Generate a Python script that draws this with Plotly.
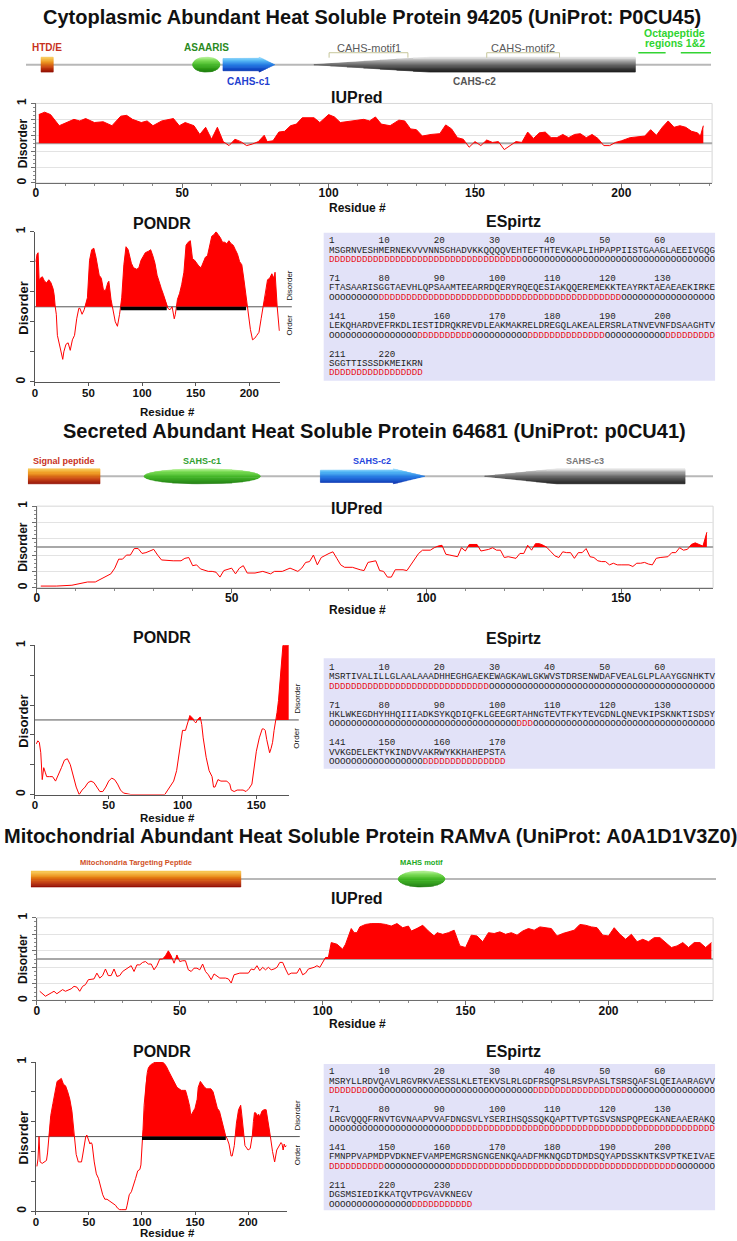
import math
import plotly.graph_objects as go

W, H = 737, 1241
SANS = "Liberation Sans, Arial, Helvetica, sans-serif"
MONO = "Liberation Mono, Courier New, monospace"
RED = "#ff0000"
DRED = "#e8121c"
THRESH = 0.5

# ======================= DATA =======================
# ---- Section 1: CAHS 94205 ----
iupred1_res = [1,3,5,8,13,15,17,20,23,26,29,31,33,36,38,40,43,47,49,51,54,56,58,60,62,64,66,68,70,72,
               74,76,78,79,81,83,85,87,89,91,95,97,100,102,104,108,112,114,116,118,121,124,126,128,130,132,135,138,140,142,
               144,146,148,150,152,154,156,158,160,162,164,166,168,170,172,174,176,178,180,182,184,186,188,190,192,194,196,198,200,203,
               206,208,210,212,214,216,218,220,222,224,226,227,228]
iupred1_val = [0.86,0.89,0.86,0.72,0.80,0.78,0.81,0.76,0.77,0.72,0.84,0.85,0.80,0.76,0.78,0.72,0.78,0.81,0.72,0.76,
               0.72,0.61,0.70,0.55,0.70,0.52,0.47,0.55,0.52,0.47,0.49,0.52,0.60,0.52,0.53,0.64,0.65,0.72,0.74,0.82,
               0.82,0.76,0.86,0.83,0.76,0.78,0.80,0.78,0.83,0.74,0.72,0.79,0.78,0.68,0.67,0.59,0.61,0.62,0.73,0.68,
               0.57,0.55,0.45,0.52,0.47,0.54,0.51,0.52,0.42,0.47,0.52,0.51,0.64,0.56,0.63,0.64,0.57,0.57,0.61,0.57,
               0.61,0.62,0.57,0.61,0.56,0.47,0.47,0.51,0.53,0.57,0.58,0.59,0.67,0.60,0.70,0.78,0.70,0.72,0.70,0.65,
               0.63,0.59,0.72]
pondr1_res = [1,2,3,4,5,7,9,11,13,15,17,18,19,20,21,23,25,26,27,29,31,33,35,37,39,41,42,44,46,47,
              49,51,53,55,57,60,62,64,66,68,69,71,73,75,77,79,81,83,85,87,90,92,95,97,99,101,103,106,108,110,
              112,114,116,118,120,122,124,126,128,130,131,133,135,137,139,141,143,145,147,149,151,153,155,157,159,161,163,165,167,169,
              171,173,175,177,179,181,183,185,187,189,191,193,195,197,199,201,203,205,207,209,211,213,215,217,219,221,223,224,226,227,228]
pondr1_val = [0.80,0.85,0.86,0.67,0.69,0.70,0.67,0.66,0.68,0.66,0.62,0.58,0.50,0.45,0.31,0.25,0.18,0.15,0.20,0.25,
              0.26,0.21,0.28,0.31,0.42,0.49,0.49,0.45,0.48,0.51,0.56,0.81,0.88,0.89,0.83,0.71,0.69,0.61,0.61,0.66,
              0.67,0.55,0.47,0.40,0.37,0.45,0.56,0.78,0.90,0.88,0.79,0.76,0.75,0.76,0.81,0.84,0.86,0.87,0.88,0.84,
              0.79,0.71,0.66,0.62,0.58,0.54,0.49,0.48,0.50,0.42,0.45,0.55,0.59,0.65,0.73,0.91,0.93,0.94,0.82,0.81,
              0.79,0.77,0.76,0.80,0.83,0.84,0.91,0.97,0.98,1.00,0.98,0.96,0.93,0.93,0.92,0.94,0.92,0.91,0.88,0.85,
              0.80,0.78,0.68,0.56,0.46,0.35,0.28,0.29,0.31,0.33,0.42,0.51,0.58,0.68,0.69,0.72,0.69,0.73,0.50,0.38,0.34]
pondr1_long_start = [80, 132]
pondr1_long_end = [123, 197]
seq1 = ["MSGRNVESHMERNEKVVVNNSGHADVKKQQQQVEHTEFTHTEVKAPLIHPAPPIISTGAAGLAEEIVGQG",
        "FTASAARISGGTAEVHLQPSAAMTEEARRDQERYRQEQESIAKQQEREMEKKTEAYRKTAEAEAEKIRKE",
        "LEKQHARDVEFRKDLIESTIDRQKREVDLEAKMAKRELDREGQLAKEALERSRLATNVEVNFDSAAGHTV",
        "SGGTTISSSDKMEIKRN"]
dis1_runs = [[("D", 35), ("O", 35)],
             [("O", 9), ("D", 44), ("O", 17)],
             [("O", 16), ("D", 10), ("O", 10), ("D", 14), ("O", 11), ("D", 9)],
             [("D", 17)]]
dom1_len = 227
dom1_feat = ["HTD/E", "ASAARIS", "CAHS-c1", "CAHS-c2"]
dom1_start = [6, 56, 66, 96]
dom1_end = [10, 65, 83, 202]
dom1_kind = ["box", "ellipse", "arrow", "wedge"]
motif1_feat = ["CAHS-motif1", "CAHS-motif2"]
motif1_start = [101, 153]
motif1_end = [127, 177]
octa1_start = [203, 217]
octa1_end = [212, 227]
octa1_label = ["Octapeptide", "regions 1&amp;2"]

# ---- Section 2: SAHS 64681 ----
iupred2_res = [1,5,9,11,13,15,17,19,20,21,22,23,24,25,26,27,28,29,30,31,32,35,37,38,39,40,41,42,44,45,
               46,47,48,50,51,52,53,54,56,58,60,61,63,65,67,68,69,70,71,72,73,75,76,77,78,79,81,83,84,85,
               86,87,88,89,90,91,92,94,95,96,97,98,99,101,102,103,104,105,106,108,109,110,111,112,113,114,115,116,117,118,
               119,120,121,122,123,124,125,126,127,128,129,130,131,132,133,134,135,136,137,138,139,140,141,142,143,144,145,146,147,148,
               149,150,152,153,154,155,156,157,158,159,160,162,163,164,165,166,167,168,169,170,171,172]
iupred2_val = [0.02,0.02,0.03,0.05,0.07,0.07,0.12,0.17,0.24,0.35,0.35,0.40,0.40,0.48,0.48,0.42,0.43,0.45,0.47,0.40,
               0.34,0.33,0.33,0.36,0.37,0.27,0.28,0.23,0.20,0.20,0.19,0.13,0.21,0.24,0.17,0.24,0.27,0.18,0.18,0.20,
               0.17,0.20,0.20,0.24,0.20,0.24,0.31,0.32,0.40,0.28,0.37,0.42,0.44,0.36,0.28,0.25,0.25,0.22,0.21,0.31,
               0.32,0.33,0.21,0.20,0.13,0.13,0.22,0.22,0.21,0.28,0.34,0.42,0.46,0.46,0.49,0.51,0.52,0.41,0.40,0.38,
               0.49,0.45,0.53,0.53,0.53,0.45,0.46,0.47,0.49,0.46,0.46,0.37,0.38,0.37,0.36,0.42,0.42,0.52,0.46,0.54,
               0.54,0.52,0.49,0.44,0.39,0.37,0.44,0.43,0.43,0.36,0.43,0.43,0.48,0.38,0.37,0.33,0.32,0.32,0.28,0.30,
               0.28,0.28,0.28,0.26,0.30,0.30,0.31,0.29,0.28,0.36,0.37,0.38,0.43,0.43,0.49,0.46,0.47,0.53,0.55,0.53,
               0.51,0.68]
pondr2_res = [1,2,3,4,5,6,7,8,10,12,14,16,18,20,22,24,26,28,30,32,34,36,38,40,42,44,46,48,50,52,
              54,56,58,60,65,70,75,80,85,88,90,92,94,96,98,99,100,102,103,104,105,106,107,108,109,110,111,112,113,114,
              116,118,120,121,122,123,124,126,128,130,132,133,135,137,139,141,143,145,147,148,149,150,152,154,155,156,157,158,159,160,
              161,162,163,164,165,166,167,168,169,170,171,172]
pondr2_val = [0.34,0.36,0.35,0.28,0.10,0.18,0.15,0.12,0.12,0.12,0.09,0.13,0.18,0.23,0.24,0.20,0.12,0.05,0.00,0.03,
              0.05,0.08,0.09,0.08,0.05,0.02,0.02,0.05,0.09,0.11,0.10,0.07,0.03,0.01,0.00,0.00,0.00,0.00,0.00,0.00,
              0.03,0.06,0.09,0.16,0.29,0.38,0.43,0.43,0.46,0.50,0.53,0.52,0.51,0.49,0.48,0.50,0.51,0.52,0.47,0.38,
              0.25,0.16,0.12,0.05,0.05,0.08,0.10,0.09,0.09,0.09,0.07,0.03,0.02,0.03,0.03,0.03,0.02,0.04,0.07,0.14,
              0.22,0.29,0.38,0.44,0.44,0.43,0.37,0.32,0.28,0.31,0.35,0.43,0.48,0.55,0.63,0.76,0.87,1.00,1.00,1.00,
              1.00,1.00]
pondr2_long_start = []
pondr2_long_end = []
seq2 = ["MSRTIVALILLGLAALAAADHHEGHGAEKEWAGKAWLGKWVSTDRSENWDAFVEALGLPLAAYGGNHKTV",
        "HKLWKEGDHYHHQIIIADKSYKQDIQFKLGEEGRTAHNGTEVTFKYTEVGDNLQNEVKIPSKNKTISDSY",
        "VVKGDELEKTYKINDVVAKRWYKKHAHEPSTA"]
dis2_runs = [[("D", 29), ("O", 41)],
             [("O", 34), ("D", 3), ("O", 33)],
             [("O", 17), ("D", 15)]]
dom2_len = 172
dom2_feat = ["Signal peptide", "SAHS-c1", "SAHS-c2", "SAHS-c3"]
dom2_start = [1, 30, 74, 115]
dom2_end = [19, 59, 100, 165]
dom2_kind = ["box", "ellipse", "arrow", "wedge"]

# ---- Section 3: MAHS RAMvA ----
iupred3_res = [1,3,5,6,7,9,10,12,13,14,15,16,17,18,20,21,22,23,24,25,26,27,28,29,30,32,33,34,35,36,
               37,38,39,40,41,42,43,44,45,46,47,48,49,50,51,52,53,54,55,56,57,58,59,60,61,62,63,64,66,67,
               68,69,71,73,74,75,76,77,78,79,80,81,82,83,84,85,86,87,88,89,91,92,93,94,95,97,98,99,100,101,
               102,103,105,107,108,110,111,112,113,115,117,120,122,124,126,128,130,131,133,135,137,139,140,142,144,146,148,150,152,154,
               156,158,160,162,164,166,168,170,172,174,176,178,180,182,184,186,188,190,192,194,196,198,200,202,204,206,208,210,212,214,
               216,218,220,222,224,226,228,230,232,234,236]
iupred3_val = [0.11,0.05,0.09,0.11,0.08,0.13,0.11,0.14,0.17,0.16,0.11,0.17,0.19,0.25,0.26,0.33,0.27,0.30,0.38,0.30,
               0.30,0.38,0.29,0.30,0.35,0.40,0.42,0.35,0.43,0.43,0.46,0.47,0.44,0.44,0.37,0.42,0.50,0.50,0.54,0.60,
               0.54,0.45,0.55,0.47,0.48,0.48,0.37,0.35,0.39,0.39,0.37,0.44,0.35,0.31,0.25,0.32,0.29,0.27,0.27,0.26,
               0.21,0.31,0.33,0.33,0.33,0.38,0.37,0.42,0.36,0.40,0.37,0.40,0.37,0.38,0.40,0.46,0.46,0.38,0.31,0.33,
               0.33,0.39,0.31,0.33,0.38,0.40,0.42,0.40,0.46,0.52,0.52,0.70,0.68,0.62,0.68,0.87,0.82,0.82,0.89,0.92,
               0.93,0.93,0.92,0.90,0.93,0.88,0.90,0.84,0.87,0.91,0.84,0.78,0.82,0.80,0.82,0.85,0.66,0.64,0.79,0.78,
               0.71,0.82,0.81,0.83,0.80,0.82,0.79,0.84,0.87,0.85,0.89,0.88,0.87,0.78,0.81,0.83,0.85,0.92,0.91,0.89,
               0.88,0.79,0.78,0.88,0.80,0.74,0.80,0.71,0.74,0.71,0.76,0.76,0.70,0.64,0.66,0.70,0.64,0.70,0.70,0.64,
               0.70]
pondr3_res = [1,2,3,4,6,8,10,11,12,14,16,18,20,22,24,26,28,30,32,34,36,37,38,40,42,43,44,45,47,48,
              49,50,51,52,53,55,57,59,61,63,65,67,69,71,73,75,77,79,81,83,85,86,87,88,90,92,94,96,98,99,
              100,101,102,103,104,105,106,108,110,113,116,119,121,123,125,127,129,131,133,135,137,139,141,143,145,146,148,150,152,153,
              155,157,159,161,163,165,167,169,171,173,175,177,179,180,182,184,185,187,189,191,193,194,195,197,198,200,202,204,205,206,
              207,209,210,211,213,215,217,219,220,221,223,225,227,229,231,232,233,234,235,236]
pondr3_val = [0.30,0.35,0.50,0.33,0.32,0.33,0.34,0.39,0.49,0.64,0.72,0.79,0.87,0.88,0.89,0.85,0.84,0.80,0.75,0.67,
              0.51,0.43,0.38,0.33,0.33,0.33,0.37,0.42,0.50,0.51,0.49,0.46,0.45,0.46,0.45,0.33,0.25,0.22,0.17,0.11,
              0.08,0.08,0.07,0.06,0.05,0.04,0.02,0.01,0.01,0.01,0.01,0.04,0.07,0.11,0.13,0.17,0.22,0.27,0.28,0.31,
              0.49,0.55,0.71,0.80,0.89,0.93,0.96,0.98,0.99,1.00,1.00,1.00,0.99,0.97,0.94,0.91,0.88,0.85,0.83,0.82,
              0.81,0.81,0.81,0.76,0.70,0.64,0.67,0.69,0.75,0.83,0.87,0.85,0.83,0.82,0.82,0.82,0.80,0.75,0.69,0.67,
              0.61,0.55,0.50,0.49,0.45,0.37,0.37,0.44,0.59,0.68,0.71,0.65,0.58,0.44,0.43,0.41,0.42,0.51,0.60,0.66,
              0.66,0.64,0.65,0.63,0.67,0.68,0.68,0.60,0.55,0.50,0.40,0.33,0.41,0.44,0.46,0.45,0.41,0.45,0.43,0.44]
pondr3_long_start = [100]
pondr3_long_end = [179]
seq3 = ["MSRYLLRDVQAVLRGVRKVAESSLKLETEKVSLRLGDFRSQPSLRSVPASLTSRSQAFSLQEIAARAGVV",
        "LRGVQQQFRNVTGVNAAPVVAFDNGSVLYSERIHSQSSQKQAPTTVPTGSVSNSPQPEGKANEAAERAKQ",
        "FMNPPVAPMDPVDKNEFVAMPEMGRSNGNGENKQAADFMKNQGDTDMDSQYAPDSSKNTKSVPTKEIVAE",
        "DGSMSIEDIKKATQVTPGVAVKNEGV"]
dis3_runs = [[("D", 7), ("O", 30), ("D", 17), ("O", 16)],
             [("O", 22), ("D", 48)],
             [("D", 10), ("O", 12), ("D", 41), ("O", 7)],
             [("O", 15), ("D", 11)]]
dom3_len = 236
dom3_feat = ["Mitochondria Targeting Peptide", "MAHS motif"]
dom3_start = [1, 127]
dom3_end = [73, 143]
dom3_kind = ["box", "ellipse"]

titles = ["Cytoplasmic Abundant Heat Soluble Protein 94205 (UniProt: P0CU45)",
          "Secreted Abundant Heat Soluble Protein 64681 (UniProt: p0CU41)",
          "Mitochondrial Abundant Heat Soluble Protein RAMvA (UniProt: A0A1D1V3Z0)"]

# ======================= HELPERS =======================
def fx(p):
    return p / W

def fy(p):
    return 1 - p / H

def sfx(n):
    return "" if n == 1 else str(n)

fig = go.Figure()
layout = {}
shapes = []
anns = []

def ann(text, x, y, size, color="#111", bold=True, angle=0, xanchor="center",
        yanchor="middle", family=SANS, xref="paper", yref="paper"):
    if bold:
        text = "<b>" + text + "</b>"
    if xref == "paper":
        x = fx(x)
    if yref == "paper":
        y = fy(y)
    anns.append(dict(text=text, x=x, y=y, xref=xref, yref=yref, showarrow=False,
                     font=dict(size=size, color=color, family=family),
                     xanchor=xanchor, yanchor=yanchor, textangle=angle))

def fill_poly(xs, ys, t):
    px_, py_ = [], []
    for i in range(len(xs)):
        if i > 0:
            a, b = ys[i - 1] - t, ys[i] - t
            if a * b < 0:
                xc = xs[i - 1] + (xs[i] - xs[i - 1]) * (-a) / (b - a)
                px_.append(xc)
                py_.append(t)
        px_.append(xs[i])
        py_.append(max(ys[i], t))
    px_ += [xs[-1], xs[0]]
    py_ += [t, t]
    return px_, py_

# panel geometry (pixels)
panels = {
    1: dict(kind="iu", x0=33, x1=712, y0=99, y1=179, xmax=231),
    2: dict(kind="po", x0=32, x1=278, y0=228, y1=379, xmax=228.5, ext=290),
    3: dict(kind="iu", x0=34, x1=713, y0=504, y1=586, xmax=173.6),
    4: dict(kind="po", x0=32, x1=287, y0=644, y1=794, xmax=172, ext=297),
    5: dict(kind="iu", x0=34, x1=713, y0=918, y1=1001, xmax=236.6),
    6: dict(kind="po", x0=33, x1=285, y0=1063, y1=1213, xmax=236.5, ext=298),
}
profiles = {
    1: (iupred1_res, iupred1_val, [], []),
    2: (pondr1_res, pondr1_val, pondr1_long_start, pondr1_long_end),
    3: (iupred2_res, iupred2_val, [], []),
    4: (pondr2_res, pondr2_val, pondr2_long_start, pondr2_long_end),
    5: (iupred3_res, iupred3_val, [], []),
    6: (pondr3_res, pondr3_val, pondr3_long_start, pondr3_long_end),
}
iu_title_y = {1: 93, 3: 506, 5: 899}
iu_resid_y = {1: 204, 3: 608, 5: 1025}
po_title_y = {2: 220, 4: 636, 6: 1052}
po_resid_y = {2: 409, 4: 818, 6: 1235}

for n, g in panels.items():
    xs_, ys_, ls, le = profiles[n]
    xa, ya = "x" + sfx(n), "y" + sfx(n)
    xt = [v for v in [0, 50, 100, 150, 200] if v <= g["xmax"]]
    iu = g["kind"] == "iu"
    axc = "#6e6e6e" if iu else "#555555"
    xax = dict(domain=[fx(g["x0"]), fx(g["x1"])], range=[0, g["xmax"]], anchor=ya,
               showline=True, linecolor=axc, linewidth=1, ticks="outside",
               ticklen=4 if iu else 3, ticklabelstandoff=-5 if iu else -3,
               tickcolor=axc, tickmode="array", tickvals=xt,
               ticktext=["<b>%d</b>" % v for v in xt],
               tickfont=dict(size=12 if iu else 11.5, color="#111", family=SANS),
               showgrid=False, zeroline=False, fixedrange=True)
    yax = dict(domain=[fy(g["y1"]), fy(g["y0"])], range=[0, 1], anchor=xa,
               showline=True, linecolor=axc, linewidth=1, ticks="outside", ticklen=4,
               tickcolor=axc, tickmode="array", tickvals=[0, 0.2, 0.4, 0.6, 0.8, 1.0],
               ticktext=["<b>0</b>", "", "", "", "", "<b>1</b>"], tickangle=-90,
               tickfont=dict(size=12, color="#111", family=SANS),
               zeroline=False, fixedrange=True, showgrid=False)
    if iu:
        xax["minor"] = dict(tickmode="linear", tick0=0, dtick=10, ticks="outside",
                            ticklen=2, tickcolor="#8a8a8a", showgrid=False)
        yax["minor"] = dict(tickmode="linear", tick0=0, dtick=0.05, ticks="outside",
                            ticklen=2, tickcolor="#8a8a8a", showgrid=False)
        yax["showgrid"] = True
        yax["gridcolor"] = "#e3e3e3"
    layout["xaxis" + sfx(n)] = xax
    layout["yaxis" + sfx(n)] = yax

    # threshold / frame
    if iu:
        shapes.append(dict(type="rect", xref=xa + " domain", yref=ya + " domain",
                           x0=0, x1=1, y0=0, y1=1, line=dict(color="#d6d6d6", width=1),
                           layer="below"))
        shapes.append(dict(type="line", xref=xa + " domain", yref=ya, x0=0, x1=1,
                           y0=THRESH, y1=THRESH, line=dict(color="#a8a8a8", width=2),
                           layer="below"))
    else:
        ty = g["y0"] + (1 - THRESH) * (g["y1"] - g["y0"])
        shapes.append(dict(type="line", xref="paper", yref="paper", x0=fx(g["x0"]),
                           x1=fx(g["ext"]), y0=fy(ty), y1=fy(ty),
                           line=dict(color="#555555", width=1), layer="below"))
        ann("Disorder", g["ext"] - 2, ty - 22, 8, bold=False, angle=-90)
        ann("Order", g["ext"] - 2, ty + 18, 8, bold=False, angle=-90)

    # fill + line
    pxs, pys = fill_poly(xs_, ys_, THRESH)
    fig.add_trace(go.Scatter(x=pxs, y=pys, mode="lines", fill="toself", fillcolor=RED,
                             line=dict(width=0, color=RED), xaxis=xa, yaxis=ya,
                             hoverinfo="skip", showlegend=False))
    fig.add_trace(go.Scatter(x=xs_, y=ys_, mode="lines", line=dict(color=RED, width=1),
                             xaxis=xa, yaxis=ya, hoverinfo="skip", showlegend=False))
    for a, b in zip(ls, le):
        fig.add_trace(go.Scatter(x=[a, b], y=[THRESH - 0.012, THRESH - 0.012], mode="lines",
                                 line=dict(color="black", width=3.5), xaxis=xa, yaxis=ya,
                                 hoverinfo="skip", showlegend=False))

    # labels
    cy = (g["y0"] + g["y1"]) / 2
    if iu:
        ann("IUPred", 355, iu_title_y[n], 16)
        ann("Residue #", 356, iu_resid_y[n], 12)
        ann("Disorder", 20, cy, 12, angle=-90)
    else:
        ann("PONDR", 160, po_title_y[n], 16)
        ann("Residue #", 165, po_resid_y[n], 11.5)
        ann("Disorder", 21, cy + 1, 13, angle=-90)

# ======================= DOMAIN BARS =======================
# vertical colour ramps: position 0 = bottom edge, 1 = top edge
CS = {
    "box": [[0, "#8e0a04"], [0.35, "#c8400c"], [0.7, "#ec9218"], [1, "#f8cc58"]],
    "ellipse": [[0, "#1c7a0e"], [0.45, "#38b01c"], [0.8, "#72d84c"], [1, "#b2f094"]],
    "arrow": [[0, "#0a2aa8"], [0.45, "#1a6ee0"], [0.8, "#4cb4f4"], [1, "#9ee0ff"]],
    "wedge": [[0, "#1a1a1a"], [0.4, "#4e4e4e"], [0.8, "#a6a6a6"], [1, "#ececec"]],
}

def hex2rgb(h):
    h = h.lstrip("#")
    return [int(h[i:i + 2], 16) for i in (0, 2, 4)]

def ramp(cs, t):
    for (p0, c0), (p1, c1) in zip(cs[:-1], cs[1:]):
        if p0 <= t <= p1:
            f = (t - p0) / (p1 - p0)
            a, b = hex2rgb(c0), hex2rgb(c1)
            return "rgb(%d,%d,%d)" % tuple(round(a[i] + f * (b[i] - a[i])) for i in range(3))
    return cs[-1][1]

def shape_xy(kind, a, b, h):
    if kind == "box":
        return [a, b, b, a], [-h, -h, h, h]
    if kind == "ellipse":
        c, r = (a + b) / 2, (b - a) / 2
        ts = [2 * math.pi * i / 72 for i in range(72)]
        return [c + r * math.cos(t) for t in ts], [h * math.sin(t) for t in ts]
    if kind == "arrow":
        hd = b - 0.3 * (b - a)
        hb = 0.82 * h
        return ([a, hd, hd, b, hd, hd, a], [-hb, -hb, -h, 0, h, hb, hb])
    m = a + 0.36 * (b - a)
    return [a, m, b, b, m], [0, h, h, -h, -h]

def clip(pts, yc, keep_above):
    out = []
    for i in range(len(pts)):
        cur, prev = pts[i], pts[i - 1]
        cin = cur[1] >= yc if keep_above else cur[1] <= yc
        pin = prev[1] >= yc if keep_above else prev[1] <= yc
        if cin != pin:
            t = (yc - prev[1]) / (cur[1] - prev[1])
            out.append((prev[0] + t * (cur[0] - prev[0]), yc))
        if cin:
            out.append(cur)
    return out

NB = 14
dom_sections = [
    dict(n=7, line_y=60, x0=23, x1=711, L=dom1_len, feat=dom1_feat, st=dom1_start,
         en=dom1_end, kind=dom1_kind, h=7.5, lab_size=10,
         colors=["#c8321e", "#2a8a1e", "#1f3fd0", "#555555"],
         side=[1, 1, -1, -1], off=17),
    dict(n=8, line_y=474, x0=25, x1=713, L=dom2_len, feat=dom2_feat, st=dom2_start,
         en=dom2_end, kind=dom2_kind, h=7.5, lab_size=9,
         colors=["#c8321e", "#2fa02f", "#2244dd", "#777777"],
         side=[1, 1, 1, 1], off=15),
    dict(n=9, line_y=879, x0=28, x1=716, L=dom3_len, feat=dom3_feat, st=dom3_start,
         en=dom3_end, kind=dom3_kind, h=8, lab_size=7.5,
         colors=["#d0501e", "#22aa22"], side=[1, 1], off=17),
]

for d in dom_sections:
    n = d["n"]
    xa, ya = "x" + sfx(n), "y" + sfx(n)
    layout["xaxis" + sfx(n)] = dict(domain=[fx(d["x0"]), fx(d["x1"])], range=[1, d["L"]],
                                    visible=False, fixedrange=True, anchor=ya)
    layout["yaxis" + sfx(n)] = dict(domain=[fy(d["line_y"] + 40), fy(d["line_y"] - 40)],
                                    range=[-40, 40], visible=False, fixedrange=True, anchor=xa)
    fig.add_trace(go.Scatter(x=[1, d["L"]], y=[0, 0], mode="lines",
                             line=dict(color="#b8b8b8", width=2), xaxis=xa, yaxis=ya,
                             hoverinfo="skip", showlegend=False))
    for i, name in enumerate(d["feat"]):
        a, b, k = d["st"][i], d["en"][i], d["kind"][i]
        h = d["h"]
        xs_, ys_ = shape_xy(k, a, b, h)
        pts = list(zip(xs_, ys_))
        for j in range(NB):
            ylo = -h + 2 * h * j / NB
            yhi = -h + 2 * h * (j + 1) / NB
            band = clip(clip(pts, ylo, True), yhi, False)
            if len(band) < 3:
                continue
            col = ramp(CS[k], (j + 0.5) / NB)
            bx = [p[0] for p in band] + [band[0][0]]
            by = [p[1] for p in band] + [band[0][1]]
            fig.add_trace(go.Scatter(x=bx, y=by, mode="lines", fill="toself", fillcolor=col,
                                     line=dict(width=0.6, color=col), xaxis=xa, yaxis=ya,
                                     hoverinfo="skip", showlegend=False))
        ann(name, (a + b) / 2, d["side"][i] * d["off"], d["lab_size"],
            color=d["colors"][i], xref=xa, yref=ya)

# section-1 motif brackets and octapeptide segments
for name, a, b in zip(motif1_feat, motif1_start, motif1_end):
    fig.add_trace(go.Scatter(x=[a, a, b, b], y=[7, 12, 12, 7], mode="lines",
                             line=dict(color="#c6c69a", width=1), xaxis="x7", yaxis="y7",
                             hoverinfo="skip", showlegend=False))
    ann(name, (a + b) / 2, 17, 11, color="#5a5a5a", bold=False, xref="x7", yref="y7")
for a, b in zip(octa1_start, octa1_end):
    fig.add_trace(go.Scatter(x=[a, b], y=[12, 12], mode="lines",
                             line=dict(color="#33d433", width=1.5), xaxis="x7", yaxis="y7",
                             hoverinfo="skip", showlegend=False))
octa_cx = (octa1_start[0] + octa1_end[-1]) / 2
ann(octa1_label[0], octa_cx, 32, 10.5, color="#2fd42f", xref="x7", yref="y7")
ann(octa1_label[1], octa_cx, 22, 10.5, color="#2fd42f", xref="x7", yref="y7")

# ======================= TITLES =======================
ann(titles[0], 371, 12, 20)
ann(titles[1], 373, 428, 20)
ann(titles[2], 369, 836, 20)

# ======================= ESPIRTZ =======================
def number_row(start, length):
    chars = [" "] * length
    labels = [start] + list(range((start // 10 + 1) * 10, start + length, 10))
    for v in labels:
        col = v - start
        s = str(v)
        if col + len(s) <= length:
            for i, ch in enumerate(s):
                chars[col + i] = ch
    return "".join(chars).replace(" ", "\u00a0")

def dis_row(runs):
    out = ""
    for ch, k in runs:
        seg = ch * k
        if ch == "D":
            out += '<span style="color:%s">%s</span>' % (DRED, seg)
        else:
            out += seg
    return out

esp = [
    dict(seq=seq1, runs=dis1_runs, box=(229, 378), row0=237, title_y=218),
    dict(seq=seq2, runs=dis2_runs, box=(657, 768), row0=666, title_y=637),
    dict(seq=seq3, runs=dis3_runs, box=(1065, 1212), row0=1073, title_y=1052),
]
for e in esp:
    shapes.append(dict(type="rect", xref="paper", yref="paper", x0=fx(322), x1=fx(715),
                       y0=fy(e["box"][1]), y1=fy(e["box"][0]), fillcolor="#e2e2f8",
                       line=dict(width=0), layer="below"))
    ann("ESpirtz", 513, e["title_y"], 16)
    start = 1
    for gi, (s, r) in enumerate(zip(e["seq"], e["runs"])):
        y0 = e["row0"] + 38 * gi
        ann(number_row(start, len(s)), 325, y0, 9.2, color="#222", bold=False,
            xanchor="left", family=MONO)
        ann(s, 325, y0 + 9.5, 9.2, color="#222", bold=False, xanchor="left", family=MONO)
        ann(dis_row(r), 325, y0 + 19, 9.2, color="#222", bold=False, xanchor="left",
            family=MONO)
        start += len(s)

layout.update(dict(width=W, height=H, margin=dict(l=0, r=0, t=0, b=0),
                   paper_bgcolor="white", plot_bgcolor="rgba(0,0,0,0)",
                   showlegend=False, shapes=shapes, annotations=anns,
                   font=dict(family=SANS, color="#111")))
fig.update_layout(**layout)

fig.write_html("out.html", config={"displayModeBar": False},
               post_script="document.body.style.margin='0px';document.body.style.overflow='hidden';")
